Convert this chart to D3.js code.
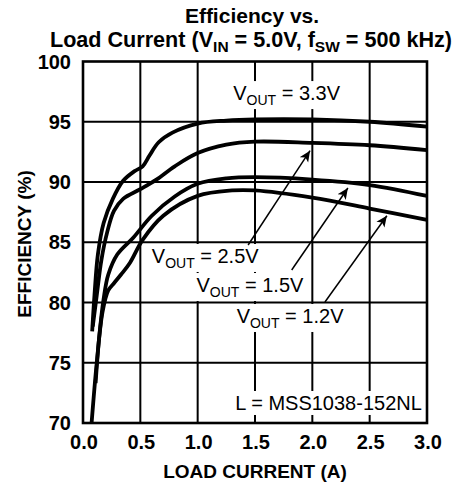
<!DOCTYPE html>
<html><head><meta charset="utf-8">
<script src="https://cdn.jsdelivr.net/npm/d3@7"></script>
<style>html,body{margin:0;padding:0;background:#fff;}svg{display:block;font-family:"Liberation Sans",Arial,sans-serif;}</style>
</head><body>
<svg id="c" width="454" height="487"></svg>
<script>
// ---- data ----
const xTicks = [0.0, 0.5, 1.0, 1.5, 2.0, 2.5, 3.0];
const yTicks = [70, 75, 80, 85, 90, 95, 100];
const v33 = [[0.08,77.6],[0.1,80.6],[0.13,84.0],[0.18,86.6],[0.26,88.6],[0.35,90.1],[0.45,90.9],[0.52,91.3],[0.58,92.2],[0.66,93.3],[0.78,94.1],[1.0,94.85],[1.25,95.1],[1.5,95.2],[2.0,95.2],[2.5,95.0],[3.0,94.6]];
const v25 = [[0.085,78.0],[0.12,80.6],[0.16,83.5],[0.21,85.8],[0.27,87.6],[0.35,88.6],[0.5,89.4],[0.64,90.2],[0.8,91.3],[1.0,92.4],[1.25,93.1],[1.5,93.35],[2.0,93.25],[2.5,93.05],[3.0,92.65]];
const v15 = [[0.11,73.3],[0.14,77.0],[0.18,80.3],[0.22,82.3],[0.3,84.0],[0.44,85.4],[0.6,87.2],[0.8,88.8],[1.0,89.85],[1.25,90.3],[1.5,90.4],[2.0,90.2],[2.5,89.75],[3.0,88.85]];
const v12 = [[0.075,70.0],[0.12,75.0],[0.17,79.2],[0.22,81.0],[0.27,81.6],[0.33,82.3],[0.41,83.3],[0.52,85.2],[0.7,87.2],[1.0,88.85],[1.3,89.3],[1.5,89.3],[2.0,88.7],[2.5,87.8],[3.0,86.85]];
const seriesList = [v33, v25, v15, v12];
const labelNames = ["3.3V", "2.5V", "1.5V", "1.2V"];
const labelPos = [[1.31,96.8],[0.6,83.28],[0.99,80.87],[1.34,78.3]];
const arrowFrom = [null,[1.44,84.77],[1.82,82.7],[2.11,80.04]];
const arrowTo   = [null,[1.98,92.6],[2.31,89.5],[2.65,87.2]];
const noteText = "L = MSS1038-152NL";
const notePos = [2.955, 71.08];

// ---- scales ----
const svg = d3.select("#c");
const x = d3.scaleLinear().domain([0,3]).range([83,427]);
const y = d3.scaleLinear().domain([70,100]).range([423,61.5]);

svg.append("defs").append("marker").attr("id","ah")
  .attr("viewBox","0 0 10 10").attr("refX",10).attr("refY",5)
  .attr("markerWidth",11).attr("markerHeight",11).attr("markerUnits","userSpaceOnUse")
  .attr("orient","auto")
  .append("path").attr("d","M0,0.5 L10,5 L0,9.5 L2.5,5 Z").attr("fill","#000");

// vertical grid
svg.append("g").selectAll("line").data(xTicks.slice(1,-1)).join("line")
  .attr("x1",d=>x(d)).attr("x2",d=>x(d)).attr("y1",y(100)).attr("y2",y(70))
  .attr("stroke","#000").attr("stroke-width",2);

// labels with white boxes
const labG = svg.append("g");
const labs = labelNames.map((n,i)=>{
  const t = labG.append("text").attr("x",x(labelPos[i][0])).attr("y",y(labelPos[i][1]))
    .attr("font-size",20).attr("fill","#000");
  t.append("tspan").text("V");
  t.append("tspan").attr("font-size",14).attr("dy",5).text("OUT");
  t.append("tspan").attr("dy",-5).text(" = "+n);
  return t;
});
const note = labG.append("text").attr("x",x(notePos[0])).attr("y",y(notePos[1]))
  .attr("text-anchor","end").attr("font-size",20).text(noteText);
[...labs, note].forEach(t=>{
  const b = t.node().getBBox();
  labG.insert("rect","text").attr("x",b.x-4).attr("y",b.y-1).attr("width",b.width+8).attr("height",b.height+2).attr("fill","#fff");
});

// horizontal grid
svg.append("g").selectAll("line").data(yTicks.slice(1,-1)).join("line")
  .attr("x1",x(0)).attr("x2",x(3)).attr("y1",d=>y(d)).attr("y2",d=>y(d))
  .attr("stroke","#000").attr("stroke-width",2);

// border
svg.append("rect").attr("x",x(0)).attr("y",y(100)).attr("width",x(3)-x(0)).attr("height",y(70)-y(100))
  .attr("fill","none").attr("stroke","#000").attr("stroke-width",2.6);

// curves
const line = d3.line().x(d=>x(d[0])).y(d=>y(d[1])).curve(d3.curveCatmullRom.alpha(0.5));
svg.append("g").selectAll("path").data(seriesList).join("path")
  .attr("d",line).attr("fill","none").attr("stroke","#000").attr("stroke-width",3.8)
  .attr("stroke-linecap","butt").attr("stroke-linejoin","round");

// arrows
arrowFrom.forEach((f,i)=>{
  if(!f) return;
  svg.append("line").attr("x1",x(f[0])).attr("y1",y(f[1])).attr("x2",x(arrowTo[i][0])).attr("y2",y(arrowTo[i][1]))
    .attr("stroke","#000").attr("stroke-width",1.5).attr("marker-end","url(#ah)");
});

// tick labels
svg.append("g").selectAll("text").data(yTicks).join("text")
  .attr("x",71).attr("y",d=>y(d)).attr("dy","0.36em").attr("text-anchor","end")
  .attr("font-size",20).attr("font-weight","bold").text(d=>d);
svg.append("g").selectAll("text").data(xTicks).join("text")
  .attr("x",d=>x(d)+1).attr("y",449).attr("text-anchor","middle")
  .attr("font-size",20).attr("font-weight","bold").text(d=>d3.format(".1f")(d));

// axis titles
svg.append("text").attr("x",255).attr("y",478).attr("text-anchor","middle")
  .attr("font-size",19).attr("font-weight","bold").text("LOAD CURRENT (A)");
svg.append("text").attr("transform","translate(31,244) rotate(-90)").attr("text-anchor","middle")
  .attr("font-size",19).attr("font-weight","bold").text("EFFICIENCY (%)");

// title
svg.append("text").attr("x",252).attr("y",22.5).attr("text-anchor","middle")
  .attr("font-size",21).attr("font-weight","bold").text("Efficiency vs.");
const t2 = svg.append("text").attr("x",251).attr("y",47).attr("text-anchor","middle")
  .attr("font-size",21.6).attr("font-weight","bold");
t2.append("tspan").text("Load Current (V");
t2.append("tspan").attr("font-size",15.5).attr("dy",5).text("IN");
t2.append("tspan").attr("dy",-5).text(" = 5.0V, f");
t2.append("tspan").attr("font-size",15.5).attr("dy",5).text("SW");
t2.append("tspan").attr("dy",-5).text(" = 500 kHz)");
</script>
</body></html>
